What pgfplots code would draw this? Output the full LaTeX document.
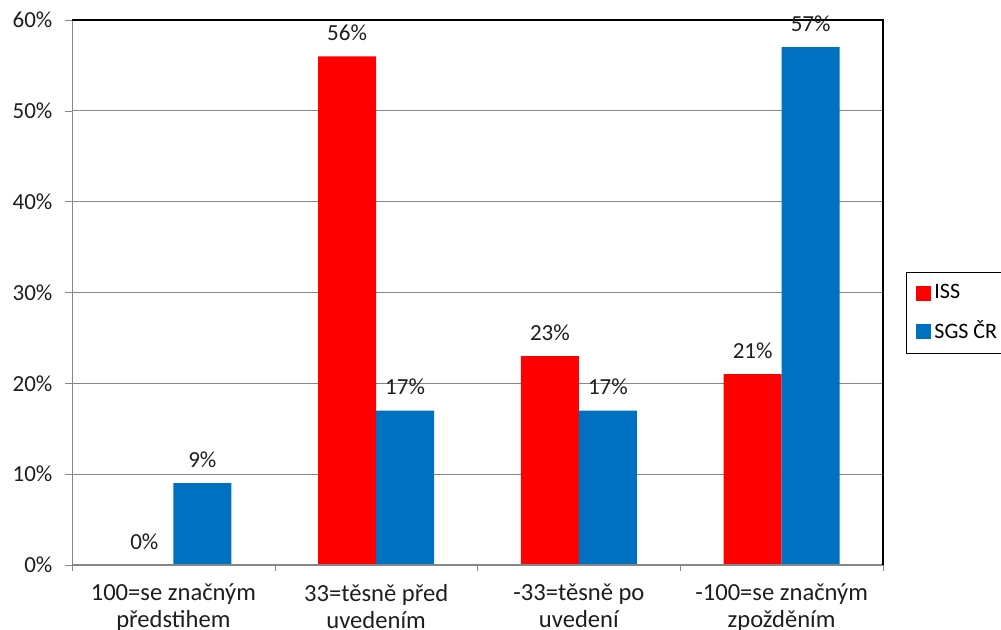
\documentclass[border=0pt]{standalone}
\usepackage{fontspec}
\setmainfont{Carlito}
\usepackage{pgfplots}
\pgfplotsset{compat=1.18}
\definecolor{issred}{RGB}{255,0,0}
\definecolor{sgsblue}{RGB}{0,112,192}
\definecolor{gridgray}{RGB}{134,134,134}
\definecolor{labeltext}{RGB}{30,30,30}

\pgfplotsset{
  sqlegend/.style={legend image code/.code={\fill[##1] (0pt,-3.75pt) rectangle (7.5pt,3.75pt);}},
}

\begin{document}
\begin{tikzpicture}
\useasboundingbox (-36pt,-32.5pt) rectangle (464.5pt,282.5pt);
\clip (-36pt,-32.5pt) rectangle (464.5pt,282.5pt);
\begin{axis}[
  at={(0,0)}, anchor=south west,
  scale only axis, width=405.5pt, height=272.5pt,
  xmin=-0.5, xmax=3.5, ymin=0, ymax=60,
  clip=false,
  ybar=0pt, bar width=29pt,
  axis line style={gridgray},
  tick pos=left, tick align=outside,
  major tick length=3.25pt,
  tick style={gridgray},
  ymajorgrids, grid style={gridgray, line width=0.5pt},
  /pgf/number format/assume math mode=true,
  ytick={0,10,...,60},
  yticklabel={\pgfmathprintnumber{\tick}\%},
  yticklabel style={font=\fontsize{11.5pt}{13pt}\selectfont, text=labeltext, xshift=-3pt},
  xtick={-0.5,0.5,1.5,2.5,3.5},
  xticklabels={,,,,},
  extra x ticks={0,1,2,3},
  extra x tick labels={{100=se značným\\předstihem},{33=těsně před\\uvedením},{-33=těsně po\\uvedení},{-100=se značným\\zpožděním}},
  extra x tick style={grid=none, major tick length=0pt,
    tick label style={align=center, font=\fontsize{12.3pt}{13.5pt}\selectfont, text=labeltext, yshift=-6pt}},
  nodes near coords={\pgfmathprintnumber{\pgfplotspointmeta}\%},
  nodes near coords style={font=\fontsize{11.5pt}{13pt}\selectfont, text=labeltext, anchor=south, inner sep=0pt, yshift=7.5pt},
  legend style={at={(1,0.5376)}, anchor=north west, xshift=11.5pt,
    draw=black, fill=white, inner xsep=5pt, inner ysep=4.5pt, row sep=6.5pt,
    font=\fontsize{11pt}{12pt}\selectfont, nodes={inner sep=1.5pt}},
  legend cell align=left,
]
\addplot[fill=issred, draw=none, sqlegend] coordinates {(0,0) (1,56) (2,23) (3,21)};
\addplot[fill=sgsblue, draw=none, sqlegend] coordinates {(0,9) (1,17) (2,17) (3,57)};
\legend{ISS, SGS ČR}
% category axis line on top of the bars, plot frame in black at top and right
\draw[gridgray, line width=0.5pt] (rel axis cs:0,0) -- (rel axis cs:1,0);
\draw[black, line width=0.7pt] (rel axis cs:0,1) -- (rel axis cs:1,1) -- (rel axis cs:1,0);
\end{axis}
\end{tikzpicture}
\end{document}
